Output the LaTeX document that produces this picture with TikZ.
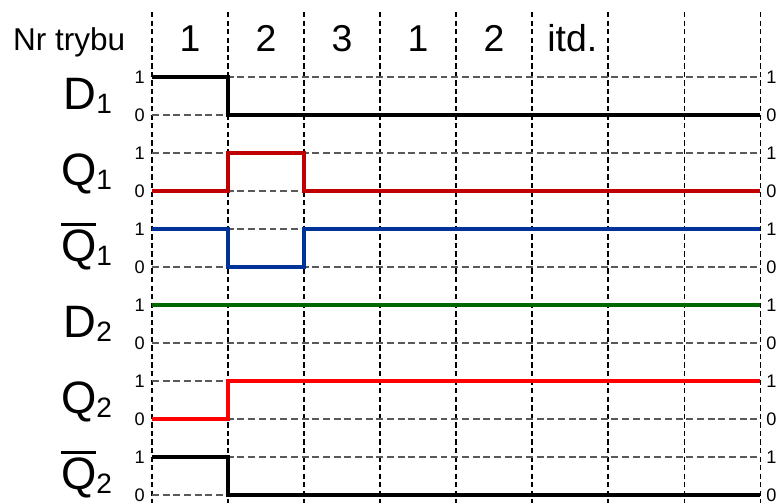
\documentclass[tikz,border=0pt]{standalone}
\usepackage{fontspec}
\setmainfont{Liberation Sans}
\definecolor{redQ1}{HTML}{C00000}
\definecolor{blueNQ1}{HTML}{003399}
\definecolor{greenD2}{HTML}{006600}
\definecolor{redQ2}{HTML}{FF0000}
\newcommand{\ovl}[1]{\vbox{\hrule height 1.1pt \kern 1.4pt \hbox{#1}}}
\newcommand{\sig}[2]{#1\raisebox{-1.5pt}{\fontsize{10.5}{11}\selectfont #2}}

\begin{document}
\begin{tikzpicture}

\tikzstyle{vgrid}=[black,line width=0.4pt,dash pattern=on 2pt off 1.2pt]
\tikzstyle{hgrid}=[black!65,line width=0.45pt,dash pattern=on 2.6pt off 1.4pt]
\tikzstyle{wave}=[line width=1.5pt,line join=miter]
\tikzstyle{mode}=[anchor=base,inner sep=0pt,font=\fontsize{14}{15}\selectfont]
\tikzstyle{signal}=[anchor=base east,inner sep=0pt,font=\fontsize{17}{18}\selectfont]
\tikzstyle{lvl}=[inner sep=0.5pt,font=\fontsize{6.8}{7}\selectfont]

\useasboundingbox (-2,-5.605) rectangle (8.21,1.013);

% grid
\foreach \x in {0,...,8}
  \draw[vgrid](\x,0.855)--(\x,-5.605);
\foreach \r in {0,...,5}{
  \draw[hgrid](0,-\r)--(8,-\r);
  \draw[hgrid](0,-\r-0.5)--(8,-\r-0.5);
  \node[lvl,anchor=east](hl\r)at(-0.07,-\r){1};
  \node[lvl,anchor=east](ll\r)at(-0.07,-\r-0.5){0};
  \node[lvl,anchor=west](hr\r)at(8.06,-\r){1};
  \node[lvl,anchor=west](lr\r)at(8.06,-\r-0.5){0};
}

% mode numbers
\node[mode,font=\fontsize{11.8}{12}\selectfont](nr)at(-1.09,0.35){Nr trybu};
\node[mode](m1)at(0.5,0.33){1};
\node[mode](m2)at(1.5,0.33){2};
\node[mode](m3)at(2.5,0.33){3};
\node[mode](m4)at(3.5,0.33){1};
\node[mode](m5)at(4.5,0.33){2};
\node[mode](m6)at(5.53,0.33){itd.};

% signal names
\node[signal](d1)at(-0.52,-0.43){\sig{D}{1}};
\node[signal](q1)at(-0.52,-1.43){\sig{Q}{1}};
\node[signal](nq1)at(-0.52,-2.43){\sig{\ovl{Q}}{1}};
\node[signal](d2)at(-0.52,-3.43){\sig{D}{2}};
\node[signal](q2)at(-0.52,-4.43){\sig{Q}{2}};
\node[signal](nq2)at(-0.52,-5.43){\sig{\ovl{Q}}{2}};

% waveforms
\draw[wave,black](0,0)--(1,0)--(1,-0.5)--(8,-0.5);
\draw[wave,redQ1](0,-1.5)--(1,-1.5)--(1,-1)--(2,-1)--(2,-1.5)--(8,-1.5);
\draw[wave,blueNQ1](0,-2)--(1,-2)--(1,-2.5)--(2,-2.5)--(2,-2)--(8,-2);
\draw[wave,greenD2](0,-3)--(8,-3);
\draw[wave,redQ2](0,-4.5)--(1,-4.5)--(1,-4)--(8,-4);
\draw[wave,black](0,-5)--(1,-5)--(1,-5.5)--(8,-5.5);

\end{tikzpicture}
\end{document}
